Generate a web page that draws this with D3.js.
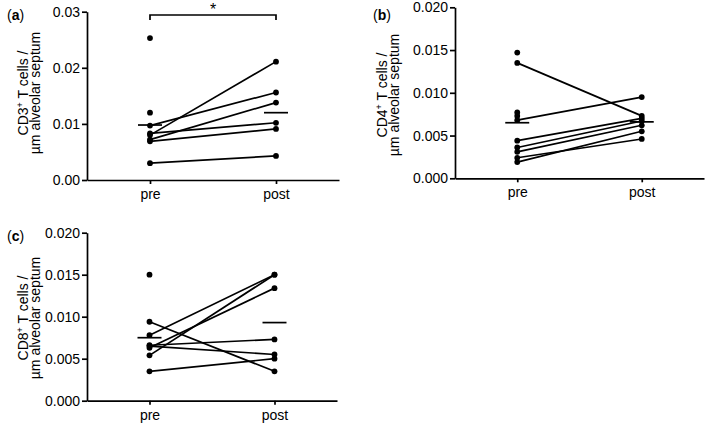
<!DOCTYPE html>
<html>
<head>
<meta charset="utf-8">
<script src="https://cdn.jsdelivr.net/npm/d3@7"></script>
<style>
  html, body { margin: 0; padding: 0; background: #fff; }
  svg { display: block; font-family: "Liberation Sans", Arial, sans-serif; }
</style>
</head>
<body>
<svg id="chart" width="711" height="427"></svg>
<script>
// ---------- data ----------
const categories = ["pre", "post"];

// (a) CD3+
const preA  = [0.0253, 0.0120, 0.0097, 0.0083, 0.0080, 0.0072, 0.0069, 0.0030];
const postA = [null,   null,   0.0156, 0.0102, 0.0211, 0.0138, 0.0091, 0.0043];
const meanA = [0.0098, 0.0120];
const ticksA = [0, 0.01, 0.02, 0.03];

// (b) CD4+
const preB  = [0.0147, 0.0077, 0.0073, 0.0135, 0.0068, 0.0044, 0.0036, 0.0031, 0.0024, 0.0019];
const postB = [null,   null,   null,   0.0073, 0.0095, 0.0070, 0.0067, 0.0062, 0.0046, 0.0055];
const meanB = [0.0065, 0.0066];
const ticksB = [0, 0.005, 0.010, 0.015, 0.020];

// (c) CD8+
const preC  = [0.0150, 0.0094, 0.0078, 0.0066, 0.0065, 0.0063, 0.0054, 0.0035];
const postC = [null,   0.0035, 0.0150, 0.0073, 0.0055, 0.0134, 0.0150, 0.0050];
const meanC = [0.0075, 0.0093];
const ticksC = [0, 0.005, 0.010, 0.015, 0.020];

// ---------- drawing ----------
const svg = d3.select("#chart");
const SW = 1.7;

function panel(opts) {
  const g = svg.append("g");
  const x = d3.scalePoint().domain(categories).range([opts.x0, opts.x1]).padding(0.5);
  const y = d3.scaleLinear().domain([0, opts.max]).range([opts.yBottom, opts.yTop]);

  // y axis
  const ya = g.append("g")
    .attr("transform", `translate(${opts.x0},0)`)
    .call(d3.axisLeft(y).tickValues(opts.ticks).tickFormat(d3.format(opts.fmt))
      .tickSize(5).tickSizeOuter(0).tickPadding(2));
  // x axis
  const xa = g.append("g")
    .attr("transform", `translate(0,${opts.yBottom})`)
    .call(d3.axisBottom(x).tickSize(4).tickSizeOuter(0).tickPadding(5));
  [ya, xa].forEach(a => {
    a.selectAll("path, line").attr("stroke", "#000").attr("stroke-width", SW);
    a.selectAll("text").attr("fill", "#000").style("font-size", "14px")
      .style("font-family", '"Liberation Sans", Arial, sans-serif');
  });

  // paired lines
  opts.pre.forEach((p, i) => {
    const q = opts.post[i];
    if (q != null) {
      g.append("line")
        .attr("x1", x("pre")).attr("y1", y(p))
        .attr("x2", x("post")).attr("y2", y(q))
        .attr("stroke", "#000").attr("stroke-width", SW);
    }
  });

  // mean lines
  categories.forEach((c, i) => {
    g.append("line")
      .attr("x1", x(c) - 12).attr("x2", x(c) + 12)
      .attr("y1", y(opts.mean[i])).attr("y2", y(opts.mean[i]))
      .attr("stroke", "#000").attr("stroke-width", SW);
  });

  // dots
  const pts = [];
  opts.pre.forEach(v => pts.push(["pre", v]));
  opts.post.forEach(v => { if (v != null) pts.push(["post", v]); });
  g.selectAll("circle.dot").data(pts).enter().append("circle")
    .attr("class", "dot")
    .attr("cx", d => x(d[0])).attr("cy", d => y(d[1]))
    .attr("r", 2.9).attr("fill", "#000");

  // y label
  const lx = opts.x0 - opts.labelOff;
  const cy = opts.labelCy;
  const t1 = g.append("text")
    .attr("transform", `translate(${lx},${cy}) rotate(-90)`)
    .attr("text-anchor", "middle").style("font-size", "14px").attr("fill", "#000");
  t1.append("tspan").text(opts.cd);
  t1.append("tspan").text("+").attr("baseline-shift", "super").style("font-size", "9px");
  t1.append("tspan").text(" T cells /");
  g.append("text")
    .attr("transform", `translate(${lx + 12.5},${cy}) rotate(-90)`)
    .attr("text-anchor", "middle").style("font-size", "14px").attr("fill", "#000")
    .text("\u00b5m alveolar septum");

  // panel label
  const pl = g.append("text").attr("x", opts.px).attr("y", opts.py)
    .style("font-size", "14px").attr("fill", "#000");
  pl.append("tspan").text("(");
  pl.append("tspan").text(opts.letter).style("font-weight", "bold");
  pl.append("tspan").text(")");

  return { g, x, y };
}

const A = panel({ x0: 87, x1: 339, yTop: 11.7, yBottom: 180, max: 0.03, ticks: ticksA, fmt: ".2f",
  pre: preA, post: postA, mean: meanA, cd: "CD3", labelOff: 59.5, labelCy: 93,
  px: 7, py: 20, letter: "a" });

// significance bracket in (a)
const by = 15;
A.g.append("path")
  .attr("d", `M${A.x("pre")},${by + 5}V${by}H${A.x("post")}V${by + 5}`)
  .attr("fill", "none").attr("stroke", "#000").attr("stroke-width", SW);
A.g.append("text")
  .attr("x", (A.x("pre") + A.x("post")) / 2).attr("y", 15)
  .attr("text-anchor", "middle").style("font-size", "16px").attr("fill", "#000").text("*");

panel({ x0: 455, x1: 704, yTop: 7.3, yBottom: 178.3, max: 0.02, ticks: ticksB, fmt: ".3f",
  pre: preB, post: postB, mean: meanB, cd: "CD4", labelOff: 68.5, labelCy: 95,
  px: 373, py: 20, letter: "b" });

panel({ x0: 87, x1: 337, yTop: 232.7, yBottom: 400.7, max: 0.02, ticks: ticksC, fmt: ".3f",
  pre: preC, post: postC, mean: meanC, cd: "CD8", labelOff: 59.5, labelCy: 318,
  px: 7, py: 241, letter: "c" });
</script>
</body>
</html>
